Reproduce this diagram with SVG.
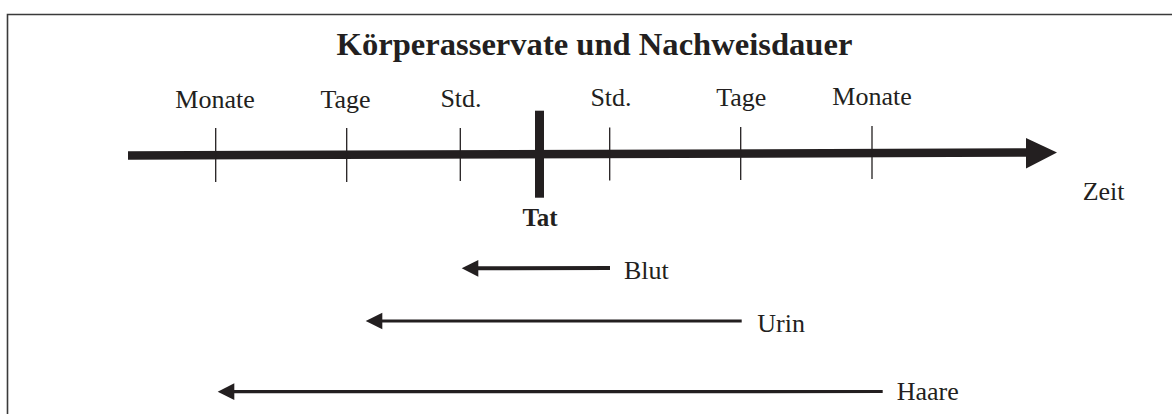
<svg xmlns="http://www.w3.org/2000/svg" width="1172" height="414" viewBox="0 0 1172 414">
<style>
text{font-family:"Liberation Serif","Times New Roman",serif;fill:#231f20}
.lbl{font-size:26px}
.mid{text-anchor:middle}
.title{font-size:32.6px;font-weight:bold}
.tat{font-size:25px;font-weight:bold}
.tick{stroke:#231f20;stroke-width:1.3;fill:none}
.arr{stroke:#231f20;fill:none}
.head{fill:#231f20}
</style>
<rect width="1172" height="414" fill="#ffffff"/>
<g id="frame">
<path d="M7.5 414 V14.5 H1172" fill="none" stroke="#3a3a3a" stroke-width="1.6"/>
</g>
<g id="title"><text class="title mid" x="594.5" y="55">Körperasservate und Nachweisdauer</text></g>
<g id="axis">
<path d="M128 155.5 L1028 152.5" stroke="#231f20" stroke-width="8.5" fill="none"/>
<polygon class="head" points="1026,138 1057,152.5 1026,168.5"/>
<rect x="535" y="110.7" width="9" height="87" fill="#231f20"/>
</g>
<g id="ticks">
<line class="tick" x1="215.7" y1="128" x2="215.7" y2="182"/>
<line class="tick" x1="346.7" y1="128" x2="346.7" y2="182"/>
<line class="tick" x1="460.3" y1="128" x2="460.3" y2="181"/>
<line class="tick" x1="609.7" y1="127.5" x2="609.7" y2="180.5"/>
<line class="tick" x1="740.7" y1="127" x2="740.7" y2="180"/>
<line class="tick" x1="872" y1="126" x2="872" y2="179"/>
</g>
<g id="labels">
<text class="lbl mid" x="215" y="108">Monate</text>
<text class="lbl mid" x="345.5" y="107.5">Tage</text>
<text class="lbl mid" x="461" y="106.5">Std.</text>
<text class="lbl mid" x="611" y="106">Std.</text>
<text class="lbl mid" x="741.3" y="105.5">Tage</text>
<text class="lbl mid" x="872" y="104.5">Monate</text>
<text class="tat mid" x="540" y="226">Tat</text>
<text class="lbl" x="1082.7" y="200">Zeit</text>
</g>
<g id="connectors">
<line class="arr" x1="610" y1="268" x2="476" y2="268.3" stroke-width="4"/>
<polygon class="head" points="461.7,268.3 478.3,260 478.3,276.7"/>
<line class="arr" x1="741.7" y1="321" x2="380" y2="321" stroke-width="3.2"/>
<polygon class="head" points="365.7,321 382.3,312.7 382.3,329.3"/>
<line class="arr" x1="882.7" y1="391.5" x2="232" y2="391.7" stroke-width="3.2"/>
<polygon class="head" points="217.7,391.7 234.3,383.3 234.3,400"/>
</g>
<g id="node-blut"><text class="lbl" x="624" y="278.5">Blut</text></g>
<g id="node-urin"><text class="lbl" x="757.3" y="331.7">Urin</text></g>
<g id="node-haare"><text class="lbl" x="896.7" y="399.5">Haare</text></g>
</svg>
